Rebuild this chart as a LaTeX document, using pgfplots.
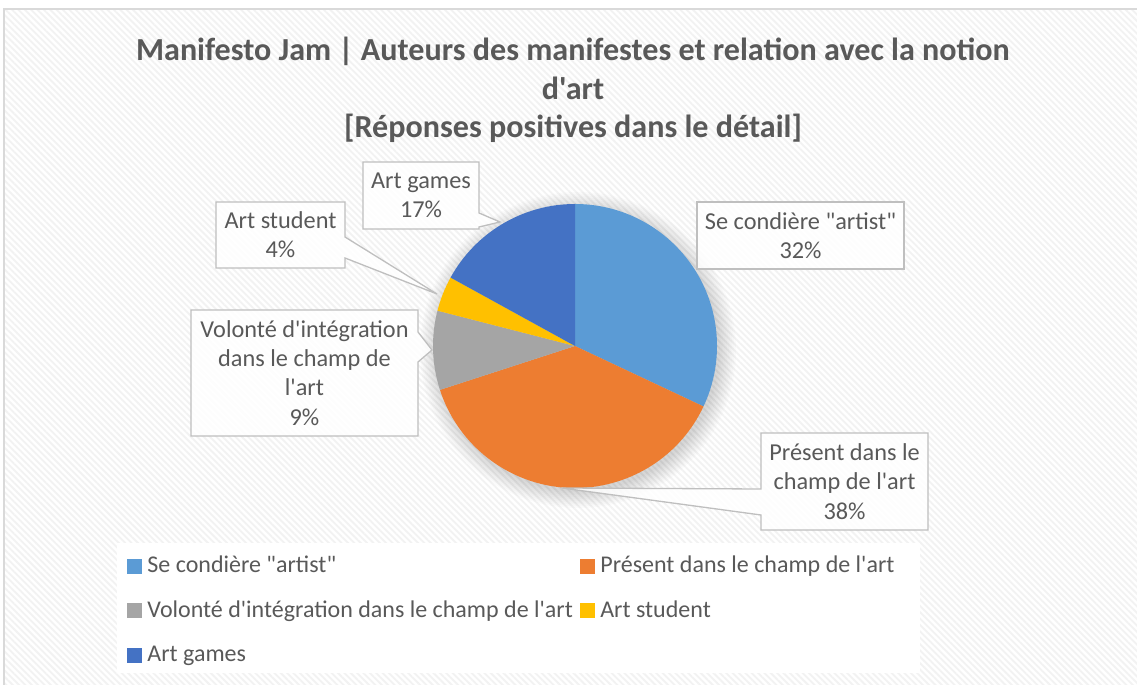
\documentclass[border=0pt]{standalone}
\usepackage{fontspec}
\setmainfont{Carlito}[Ligatures=TeXOff]
\usepackage{pgfplots}
\pgfplotsset{compat=1.18}
\usepackage{pgfplotstable}
\usetikzlibrary{patterns.meta}

\definecolor{pie0}{HTML}{5B9BD5}
\definecolor{pie1}{HTML}{ED7D31}
\definecolor{pie2}{HTML}{A5A5A5}
\definecolor{pie3}{HTML}{FFC000}
\definecolor{pie4}{HTML}{4472C4}
\definecolor{txtgray}{HTML}{595959}
\definecolor{boxgray}{HTML}{BFBFBF}
\definecolor{framegray}{HTML}{D9D9D9}

% shares in percent, clockwise from the top
\pgfplotstableread{
share
32
38
9
4
17
}\piedata

\newcommand\lblfont{\fontsize{24.3}{29.3}\selectfont}
\newcommand\lgdfont{\fontsize{24}{29.3}\selectfont}
\newcommand\ttlfont{\fontsize{32.1}{38.5}\selectfont\bfseries}

\begin{document}
\begin{tikzpicture}
\begin{axis}[
  x=1pt, y=1pt,
  xmin=0, xmax=1137, ymin=0, ymax=685,
  scale only axis, hide axis, clip=false,
  legend columns=2,
  legend cell align=left,
  legend image code/.code={\fill[#1] (0pt,0pt) rectangle (14pt,14pt);},
  legend style={draw=none, fill=none, inner sep=0pt, outer sep=0pt,
    at={(axis cs:127,132)}, anchor=north west,
    font=\lgdfont,
    nodes={inner sep=0pt, text=txtgray, text height=20pt, text depth=24.5pt, anchor=base west},
    /tikz/every odd column/.append style={column sep=6pt},
    /tikz/every even column/.append style={column sep=7pt}},
]
% background and frame
\fill[white] (axis cs:0,0) rectangle (axis cs:1137,685);
\fill[pattern={Lines[angle=-45,distance=4.5pt,line width=1.8pt]}, pattern color=black!5]
  (axis cs:3,0) rectangle (axis cs:1137,676);
\draw[framegray, line width=2pt] (axis cs:3.5,0) -- (axis cs:3.5,676) -- (axis cs:1137,676);
\fill[white] (axis cs:117,12) rectangle (axis cs:920,142);

% title
\node[anchor=base, text=txtgray, font=\ttlfont]
  at (axis cs:573,624.3) {Manifesto Jam | Auteurs des manifestes et relation avec la notion};
\node[anchor=base, text=txtgray, font=\ttlfont]
  at (axis cs:573,585.8) {d'art};
\node[anchor=base, text=txtgray, font=\ttlfont]
  at (axis cs:573,547.3) {[Réponses positives dans le détail]};

% soft shadow
\pgfplotsinvokeforeach{1,...,10}{
  \fill[black, opacity=0.016] (axis cs:578,335) circle[radius=140pt+#1*1.8pt];
}

% slices
\pgfmathsetmacro\cum{0}
\pgfplotsforeachungrouped \i in {0,...,4}{%
  \pgfplotstablegetelem{\i}{share}\of\piedata
  \pgfmathsetmacro\sa{90-3.6*\cum}%
  \pgfmathsetmacro\cum{\cum+\pgfplotsretval}%
  \pgfmathsetmacro\ea{90-3.6*\cum}%
  \edef\slice{\noexpand\fill[pie\i] (axis cs:575,339) -- ++(\sa:142pt)
    arc[start angle=\sa, end angle=\ea, radius=142pt] -- cycle;}%
  \slice
}

% callouts
\tikzset{callout/.style={draw=boxgray, line width=1.3pt, fill=white, fill opacity=0.85}}
\draw[callout] (axis cs:697,416) rectangle (axis cs:904,483);
\node[align=center, text=txtgray, font=\lblfont] at (axis cs:800.5,449.5) {Se condière "artist"\\32\%};

\draw[callout] (axis cs:363,456) -- (axis cs:363,523) -- (axis cs:479,523) -- (axis cs:479,472)
  -- (axis cs:500,463) -- (axis cs:479,458) -- (axis cs:479,456) -- cycle;
\node[align=center, text=txtgray, font=\lblfont] at (axis cs:421,489.5) {Art games\\17\%};

\draw[callout] (axis cs:216,417) -- (axis cs:216,483) -- (axis cs:345,483) -- (axis cs:345,448)
  -- (axis cs:437,391) -- (axis cs:345,427) -- (axis cs:345,417) -- cycle;
\node[align=center, text=txtgray, font=\lblfont] at (axis cs:280.5,450) {Art student\\4\%};

\draw[callout] (axis cs:191,249) -- (axis cs:191,375) -- (axis cs:418,375) -- (axis cs:418,353)
  -- (axis cs:432,335) -- (axis cs:418,323) -- (axis cs:418,249) -- cycle;
\node[align=center, text=txtgray, font=\lblfont] at (axis cs:304.5,312)
  {Volonté d'intégration\\dans le champ de\\l'art\\9\%};

\draw[callout] (axis cs:761,155) -- (axis cs:761,170) -- (axis cs:562,197) -- (axis cs:761,196)
  -- (axis cs:761,252) -- (axis cs:928,252) -- (axis cs:928,155) -- cycle;
\node[align=center, text=txtgray, font=\lblfont] at (axis cs:844.5,203.5)
  {Présent dans le\\champ de l'art\\38\%};

% legend
\addlegendimage{pie0}\addlegendentry{Se condière "artist"}
\addlegendimage{pie1}\addlegendentry{Présent dans le champ de l'art}
\addlegendimage{pie2}\addlegendentry{Volonté d'intégration dans le champ de l'art}
\addlegendimage{pie3}\addlegendentry{Art student}
\addlegendimage{pie4}\addlegendentry{Art games}
\end{axis}
\pgfresetboundingbox
\path (current axis.south west) rectangle (current axis.north east);
\end{tikzpicture}
\end{document}
